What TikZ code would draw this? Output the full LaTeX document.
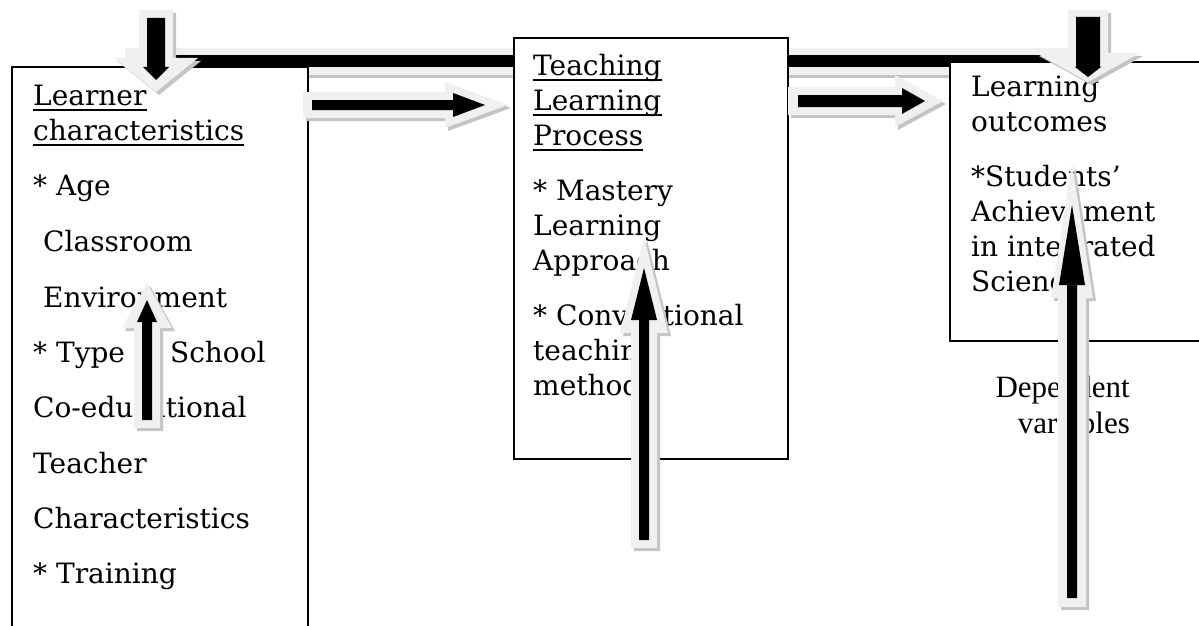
\documentclass[tikz,border=0pt]{standalone}
\usepackage{fontspec}
\setmainfont{DejaVu Serif}
\newfontfamily\timesf{Liberation Serif}
\definecolor{arrlight}{HTML}{F0F0F0}
\definecolor{arrshadow}{HTML}{C4C4C4}
% polygon of a block arrow along local x: tail, tip, shaft half, head half, head length
\newcommand\arrpoly[5]{(#1,-#3) -- (#2-#5,-#3) -- (#2-#5,-#4) -- (#2,0) -- (#2-#5,#4) -- (#2-#5,#3) -- (#1,#3) -- cycle}
% block arrow: start coordinate, rotation, outline spec, black spec
\newcommand\blockarrow[4]{%
  \begin{scope}[shift={(#1)},xshift=3pt,yshift=-3pt,rotate=#2]\fill[arrshadow] \arrpoly#3;\end{scope}
  \begin{scope}[shift={(#1)},rotate=#2]\fill[arrlight] \arrpoly#3;\fill[black] \arrpoly#4;\end{scope}}
\begin{document}
\begin{tikzpicture}[x=1pt,y=-1pt,
  boxst/.style={draw=black,line width=1.8pt,fill=white},
  txt/.style={anchor=base west,inner sep=0pt,font=\fontsize{28}{34}\selectfont},
  dep/.style={anchor=base east,inner sep=0pt,font=\timesf\fontsize{31}{36}\selectfont},
  uline/.style={line width=1.8pt}]
\useasboundingbox (0,0) rectangle (1199,626);
% top connecting bar
\coordinate (bar) at (125,61);
\begin{scope}[shift={(bar)},xshift=3pt,yshift=-3pt]\fill[arrshadow] (0,-13) rectangle (955,14);\end{scope}
\begin{scope}[shift={(bar)}]\fill[arrlight] (0,-13) rectangle (955,14);\fill[black] (25,-6) rectangle (950,6);\end{scope}
% boxes
\node[boxst,anchor=north west,minimum width=296pt,minimum height=600pt] (learner) at (11,66) {};
\node[boxst,anchor=north west,minimum width=274pt,minimum height=421pt] (process) at (513,37) {};
\node[boxst,anchor=north west,minimum width=280pt,minimum height=279pt] (outcome) at (949,61) {};
% learner text
\node[txt] (l1) at (33,105) {Learner};
\node[txt] (l2) at (33,140) {characteristics};
\node[txt] (l3) at (33,195) {* Age};
\node[txt] (l4) at (43,251) {Classroom};
\node[txt] (l5) at (43,307) {Environment};
\node[txt] (l6) at (33,362) {* Type of School};
\node[txt] (l7) at (33,417) {Co-educational};
\node[txt] (l8) at (33,473) {Teacher};
\node[txt] (l9) at (33,528) {Characteristics};
\node[txt] (l10) at (33,583) {* Training};
% process text
\node[txt] (p1) at (533,75) {Teaching};
\node[txt] (p2) at (533,110) {Learning};
\node[txt] (p3) at (533,145) {Process};
\node[txt] (p4) at (533,200) {* Mastery};
\node[txt] (p5) at (533,235) {Learning};
\node[txt] (p6) at (533,270) {Approach};
\node[txt] (p7) at (533,325) {* Conventional};
\node[txt] (p8) at (533,360) {teaching};
\node[txt] (p9) at (533,395) {methods};
% outcome text
\node[txt] (o1) at (971,96) {Learning};
\node[txt] (o2) at (971,131) {outcomes};
\node[txt] (o3) at (971,186) {*Students’};
\node[txt] (o4) at (971,221) {Achievement};
\node[txt] (o5) at (971,256) {in integrated};
\node[txt] (o6) at (971,291) {Science};
% dependent variables
\node[dep] (d1) at (1130,397) {Dependent};
\node[dep] (d2) at (1130,433) {variables};
% underlines
\foreach \n in {l1,l2,p1,p2,p3}
  \draw[uline] ([yshift=-5pt]\n.base west) -- ([yshift=-5pt]\n.base east);
% arrows
\coordinate (downL) at (156,18);
\coordinate (downR) at (1088,17);
\coordinate (arA) at (312,105);
\coordinate (arB) at (798,101);
\coordinate (arC) at (147,420);
\coordinate (arD) at (644,540);
\coordinate (arE) at (1072,598);
\blockarrow{downL}{-90}{{-8}{74}{17}{42}{34}}{{0}{62}{9}{13}{13}}
\blockarrow{downR}{-90}{{-7}{65}{20}{52}{29}}{{0}{60}{12}{13}{10}}
\blockarrow{arA}{0}{{-9}{196}{13}{23}{63}}{{0}{173}{5}{12}{32}}
\blockarrow{arB}{0}{{-10}{145}{14}{26}{48}}{{0}{127}{6}{13}{23}}
\blockarrow{arC}{90}{{-8}{137}{13}{25}{45}}{{0}{120}{5}{10}{22}}
\blockarrow{arD}{90}{{-8}{303}{13}{24}{96}}{{0}{272}{5}{13}{52}}
\blockarrow{arE}{90}{{-9}{435}{14}{21}{135}}{{0}{393}{5}{13}{80}}
\end{tikzpicture}
\end{document}
